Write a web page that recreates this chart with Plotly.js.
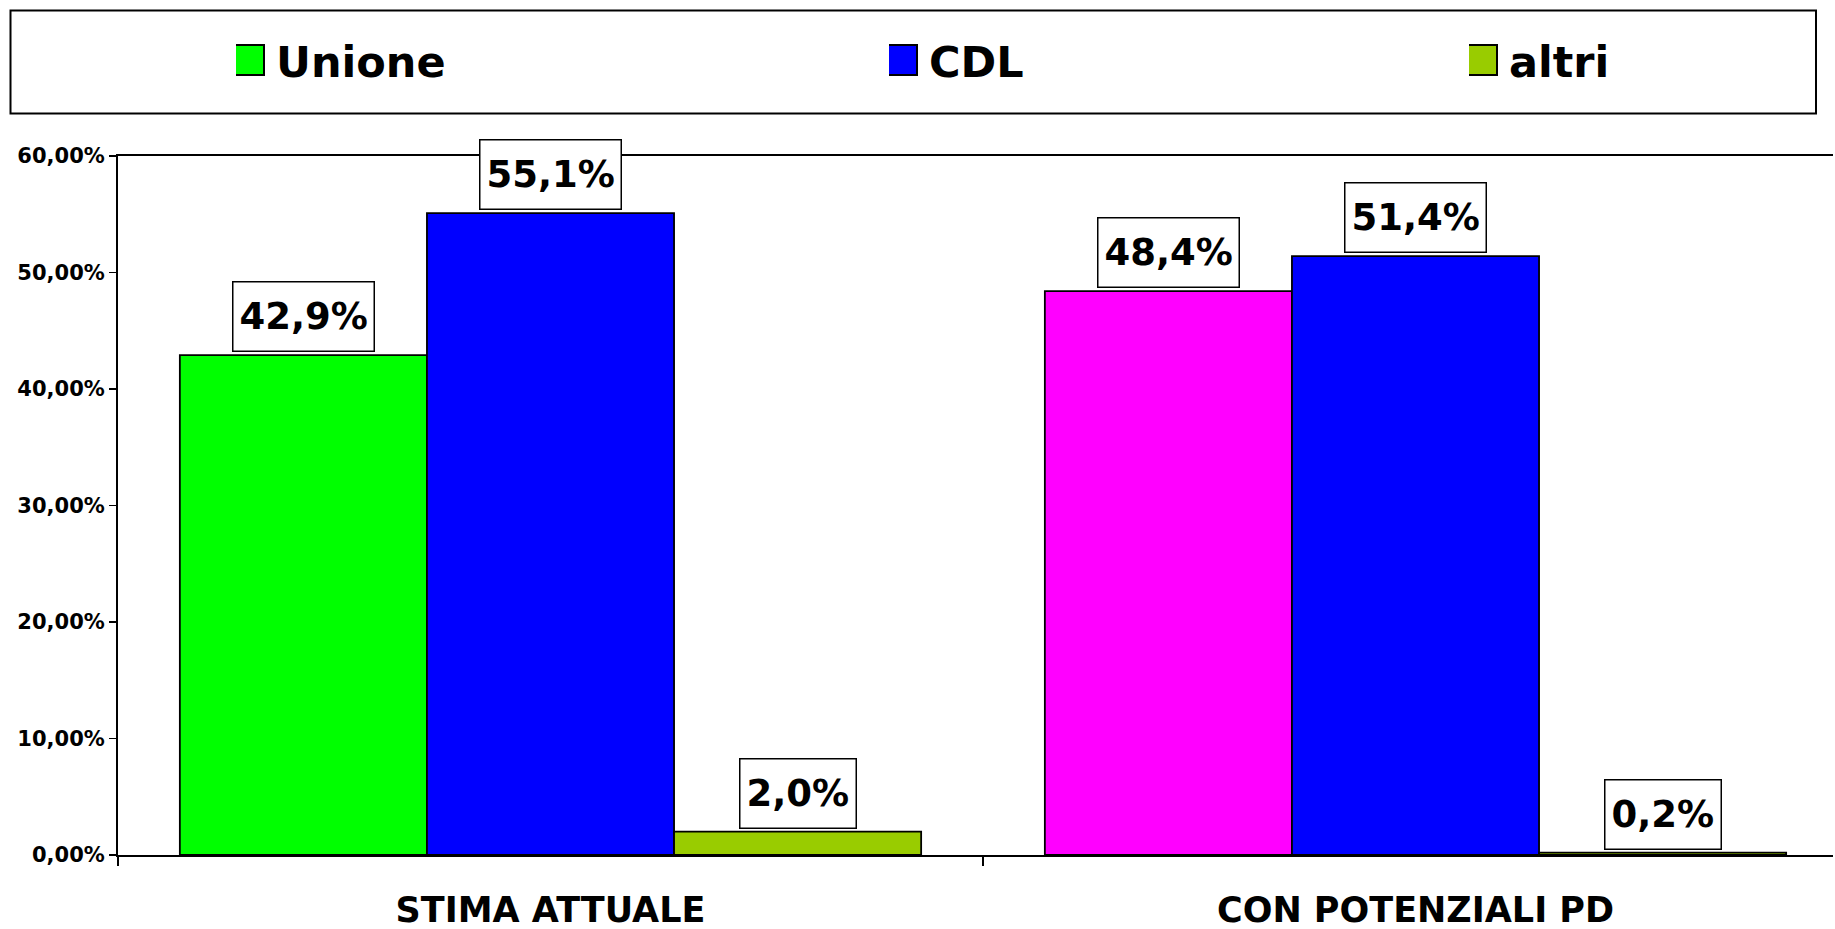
<!DOCTYPE html>
<html>
<head>
<meta charset="utf-8">
<script src="https://cdn.plot.ly/plotly-3.0.1.min.js"></script>
<style>html,body{margin:0;padding:0;background:#fff;}#chart{width:1835px;height:929px;}</style>
</head>
<body>
<div id="chart"></div>
<script>
// ---- data ----
const categories = ["STIMA ATTUALE", "CON POTENZIALI PD"];
const seriesNames = ["Unione", "CDL", "altri"];
const unioneValues = [0.429, 0.484];
const cdlValues = [0.551, 0.514];
const altriValues = [0.020, 0.002];

// ---- styles ----
const W = 1835, H = 929;
const M = {l: 118, r: 2, t: 156, b: 74};
const plotW = W - M.l - M.r, plotH = H - M.t - M.b;
const px2x = p => (p - M.l) / plotW;
const px2y = p => (H - M.b - p) / plotH;
const FONT = "DejaVu Sans, Verdana, sans-serif";
const BARGAP = 0.143;
const CAT_PX = 865; // pixel width of one category slot

const seriesData = [unioneValues, cdlValues, altriValues];
const seriesColors = [["#00FF00", "#FF00FF"], ["#0000FF", "#0000FF"], ["#99CC00", "#99CC00"]];
const legendIds = ["legend", "legend2", "legend3"];
const legendTextPx = [277, 930, 1510];

const traces = seriesData.map((vals, i) => ({
  type: "bar",
  name: seriesNames[i],
  x: categories,
  y: vals,
  legend: legendIds[i],
  showlegend: true,
  marker: {color: seriesColors[i], line: {color: "#000", width: 1.8}},
  hoverinfo: "skip"
}));

const fmt = v => (v * 100).toFixed(1).replace(".", ",") + "%";
const nS = seriesData.length;
const bw = (1 - BARGAP) / nS;
const annotations = [];
seriesData.forEach((vals, i) => {
  vals.forEach((v, j) => {
    annotations.push({
      x: j + (i - (nS - 1) / 2) * bw,
      y: v, xref: "x", yref: "y",
      yanchor: "bottom", xanchor: "center", yshift: 3,
      text: fmt(v), showarrow: false, height: 56,
      font: {family: FONT, size: 37, color: "#000", weight: "bold"},
      bgcolor: "#fff", bordercolor: "#000", borderwidth: 1.5, borderpad: 6
    });
  });
});

const layout = {
  width: W, height: H,
  margin: M,
  paper_bgcolor: "#fff", plot_bgcolor: "#fff",
  separators: ",.",
  showlegend: true,
  barmode: "group", bargap: BARGAP, bargroupgap: 0,
  font: {family: FONT, color: "#000"},
  xaxis: {
    type: "category",
    range: [-0.5, -0.5 + plotW / CAT_PX],
    showline: true, linecolor: "#000", linewidth: 2, mirror: true,
    ticks: "outside", tickson: "boundaries", ticklen: 9, tickcolor: "#000", tickwidth: 1.5,
    tickfont: {family: FONT, size: 35, color: "#000", weight: "bold"},
    ticklabelstandoff: 23,
    showgrid: false, zeroline: false, fixedrange: true
  },
  yaxis: {
    range: [0, 0.6], dtick: 0.1, tick0: 0, tickformat: ".2%",
    showline: true, linecolor: "#000", linewidth: 2,
    ticks: "outside", ticklen: 7, tickcolor: "#000", tickwidth: 1.5,
    tickfont: {family: FONT, size: 21, color: "#000", weight: "bold"},
    showgrid: false, zeroline: false, fixedrange: true
  },
  shapes: [{
    type: "rect", xref: "paper", yref: "paper",
    x0: px2x(10.5), x1: px2x(1816), y0: px2y(113.5), y1: px2y(10.5),
    line: {color: "#000", width: 2}, fillcolor: "rgba(0,0,0,0)", layer: "below"
  }],
  annotations: annotations
};
legendIds.forEach((id, i) => {
  layout[id] = {
    x: px2x(legendTextPx[i] - 41), y: px2y(60),
    xanchor: "left", yanchor: "middle",
    orientation: "h", bgcolor: "rgba(0,0,0,0)", borderwidth: 0,
    font: {family: FONT, size: 43, color: "#000", weight: "bold"}
  };
});

Plotly.newPlot("chart", traces, layout, {displayModeBar: false, staticPlot: true}).then(gd => {
  // enlarge legend swatches to match the reference's large square keys
  gd.querySelectorAll(".legendpoints path").forEach(p => {
    const t = p.getAttribute("transform") || "";
    p.setAttribute("transform", t + " translate(-7,0) scale(2.5)");
    p.style.strokeWidth = "0.8px";
  });
});
</script>
</body>
</html>
